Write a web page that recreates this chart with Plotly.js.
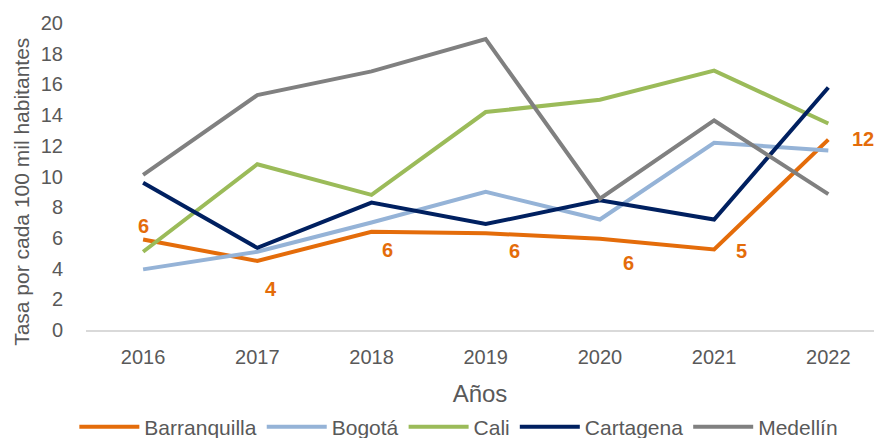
<!DOCTYPE html>
<html>
<head>
<meta charset="utf-8">
<script src="https://cdn.plot.ly/plotly-3.0.1.min.js"></script>
<style>html,body{margin:0;padding:0;background:#fff;}#chart{width:874px;height:438px;}</style>
</head>
<body>
<div id="chart"></div>
<script>
const years = ["2016","2017","2018","2019","2020","2021","2022"];
const barranquilla = [5.9, 4.5, 6.4, 6.3, 5.95, 5.25, 12.4];
const bogota = [3.95, 5.1, 7.0, 9.0, 7.2, 12.2, 11.7];
const cali = [5.1, 10.8, 8.8, 14.2, 15.0, 16.9, 13.45];
const cartagena = [9.6, 5.35, 8.3, 6.9, 8.45, 7.2, 15.8];
const medellin = [10.1, 15.3, 16.85, 18.95, 8.55, 13.65, 8.85];
const barranquillaLabels = ["6","4","6","6","6","5","12"];

const seriesNames = ["Barranquilla","Bogotá","Cali","Cartagena","Medellín"];
const seriesValues = [barranquilla, bogota, cali, cartagena, medellin];
const seriesColors = ["#E46C0A","#95B3D7","#9BBB59","#002060","#808080"];

const traces = seriesNames.map((n,i)=>({
  type:'scatter', mode:'lines', name:n, x:years, y:seriesValues[i],
  line:{color:seriesColors[i], width:4}, hoverinfo:'skip'
}));

// label offsets (pixels) for Barranquilla data labels
const lblShift = [[0,13],[14,-28],[16,-18],[29,-18],[29,-24],[27,-2],[35,1]];
const annotations = years.map((yr,i)=>({
  x:i, y:barranquilla[i], xref:'x', yref:'y', text:barranquillaLabels[i],
  showarrow:false, xshift:lblShift[i][0], yshift:lblShift[i][1],
  font:{family:'Liberation Sans, Arial, sans-serif', size:20, color:'#E46C0A', weight:'bold'}
}));
annotations.push({
  xref:'paper', yref:'paper', x:-0.0812, y:0.45, xanchor:'center', yanchor:'middle',
  text:'Tasa por cada 100 mil habitantes', textangle:-90, showarrow:false,
  font:{family:'Liberation Sans, Arial, sans-serif', size:21, color:'#595959'}
});

const layout = {
  width:874, height:438,
  margin:{l:86, r:0, t:23, b:108},
  paper_bgcolor:'#fff', plot_bgcolor:'#fff',
  font:{family:'Liberation Sans, Arial, sans-serif', color:'#595959', size:20},
  showlegend:true,
  legend:{orientation:'h', xref:'container', yref:'container', x:0.525, xanchor:'center', y:0.025, yanchor:'middle',
    font:{size:21, color:'#595959'}, itemwidth:60, tracegroupgap:0},
  xaxis:{type:'category', range:[-0.5,6.4], showgrid:false, zeroline:false, showline:true,
    linecolor:'#D9D9D9', linewidth:2, ticks:'outside', ticklen:8, tickcolor:'rgba(0,0,0,0)',
    tickfont:{size:20, color:'#595959'},
    title:{text:'Años', font:{size:24, color:'#595959'}, standoff:22}},
  yaxis:{range:[0,20], dtick:2, showgrid:false, zeroline:false, showline:false,
    ticks:'outside', ticklen:18, tickcolor:'rgba(0,0,0,0)',
    tickfont:{size:20, color:'#595959'}},
  annotations:annotations
};
Plotly.newPlot('chart', traces, layout, {staticPlot:true, displayModeBar:false});
</script>
</body>
</html>
